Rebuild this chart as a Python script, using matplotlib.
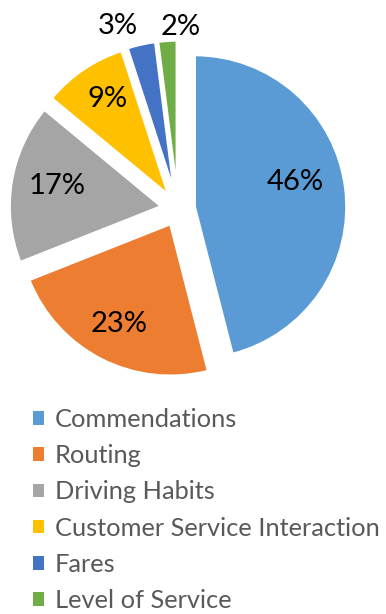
import numpy as np
import matplotlib.pyplot as plt
from matplotlib.patches import Patch

plt.rcParams['font.family'] = ['Lato', 'DejaVu Sans']

# data
categories = ["Commendations", "Routing", "Driving Habits",
              "Customer Service Interaction", "Fares", "Level of Service"]
shares = [46, 23, 17, 9, 3, 2]
colors = ["#5B9BD5", "#ED7D31", "#A5A5A5", "#FFC000", "#4472C4", "#70AD47"]

# label placement relative to each wedge (distance in radii, angle shift in degrees)
label_dist = [0.68, 0.74, 0.70, 0.75, 1.16, 1.09]
label_shift = [7, 0, -2, -2, 6, -5]

W, H = 386, 614
fig = plt.figure(figsize=(W / 100, H / 100), dpi=100)
ax = fig.add_axes([0, 0, 1, 1])

r_px = 152
cx, cy = 178, 209
wedges, texts, autotexts = ax.pie(shares, colors=colors, startangle=90, counterclock=False,
                                  explode=[0.11] * len(shares), autopct="%d%%",
                                  wedgeprops=dict(edgecolor="white", linewidth=2),
                                  textprops=dict(fontsize=21, color="black"))

for w, t, d, s in zip(wedges, autotexts, label_dist, label_shift):
    ang = np.deg2rad((w.theta1 + w.theta2) / 2 + s)
    x0, y0 = w.center
    t.set_position((x0 + d * np.cos(ang), y0 + d * np.sin(ang)))
    t.set_ha("center")
    t.set_va("center")

ax.set_aspect("auto")
ax.set_xlim(-cx / r_px, (W - cx) / r_px)
ax.set_ylim(-(H - cy) / r_px, cy / r_px)
ax.axis("off")

handles = [Patch(facecolor=c, edgecolor="none") for c in colors]
fig.legend(handles, categories, loc="upper left", bbox_to_anchor=(33 / W, 1 - 408 / H),
           frameon=False, fontsize=18.3, labelcolor="#595959",
           handlelength=0.45, handleheight=0.45, handletextpad=0.4, labelspacing=0.52,
           borderaxespad=0, borderpad=0)

fig.savefig("out.png", dpi=100)
